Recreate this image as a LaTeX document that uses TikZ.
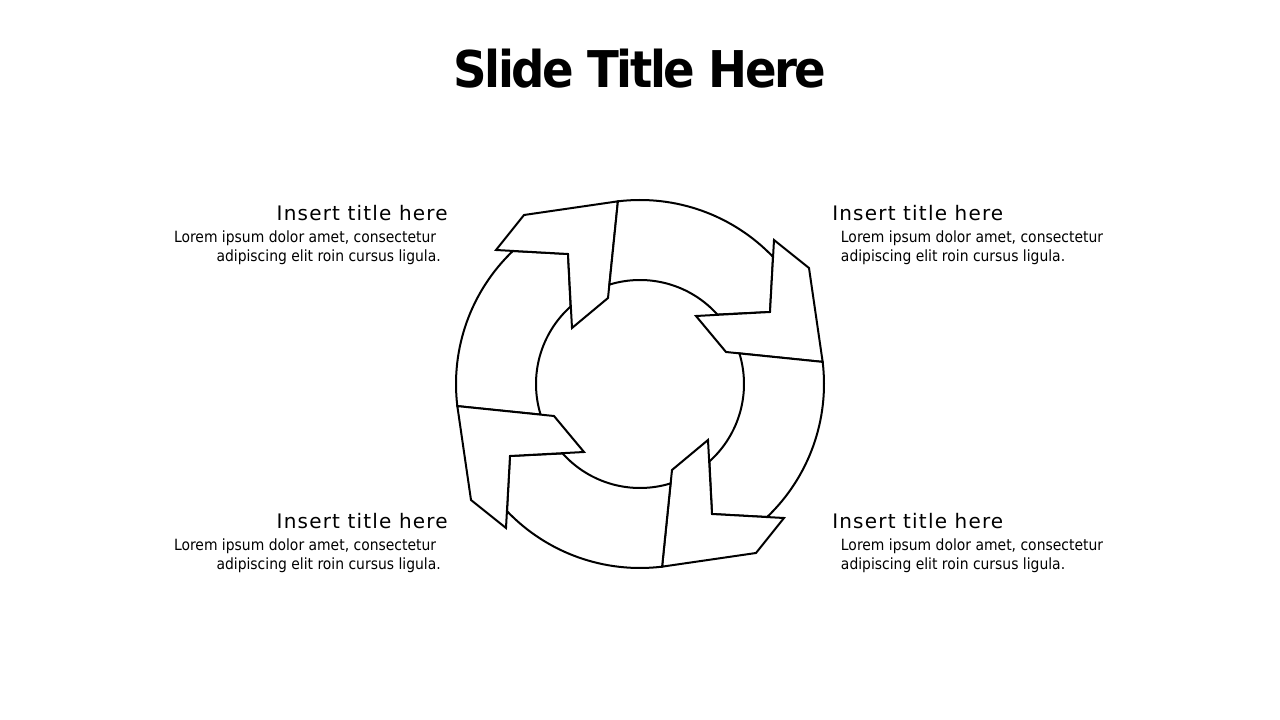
\documentclass[tikz,border=0pt]{standalone}
\usepackage{fontspec}
\setmainfont{DejaVu Sans}
\newfontfamily\slidefont{DejaVu Sans}[FakeStretch=0.92,LetterSpace=-5]
\newfontfamily\headfont{DejaVu Sans}[LetterSpace=6]
\newfontfamily\bodyfont{DejaVu Sans}[FakeStretch=0.9]

\begin{document}
\begin{tikzpicture}[x=0.75pt,y=0.75pt,
  piece/.style={draw=black,fill=white,line width=1.5pt},
  slidetitle/.style={font=\slidefont\bfseries\fontsize{38pt}{44pt}\selectfont,inner sep=0pt,anchor=base},
  head/.style={font=\headfont\fontsize{15pt}{18pt}\selectfont,inner sep=0pt},
  body/.style={font=\bodyfont\fontsize{11.6pt}{14.25pt}\selectfont,inner sep=0pt}]
\useasboundingbox (-640,-336) rectangle (640,384);
\coordinate (0) at (0,0);
% four bent arrows round the ring
\foreach \a in {0,90,180,270}{
\begin{scope}[rotate=-\a]
\draw[piece] (186.9:184) arc[start angle=186.9,end angle=133.7,radius=184]
  -- (-72,130) -- (131.9:104) arc[start angle=131.9,end angle=197.1,radius=104] -- cycle;
\draw[piece] (-144,134) -- (-116,169) -- (96.9:184) -- (-32,86) -- (-68,56) -- (-72,130) -- cycle;
\end{scope}
}
\node[slidetitle] (title) at (0,296) {Slide Title Here};
\node[head,anchor=base east] (tl) at (-192,163) {Insert title here};
\node[head,anchor=base west] (tr) at (192,163) {Insert title here};
\node[head,anchor=base east] (bl) at (-192,-145) {Insert title here};
\node[head,anchor=base west] (br) at (192,-145) {Insert title here};
% base of a two-line node sits on its last line
\node[body,align=right,anchor=base east] (tltext) at (-199,122.3)
  {Lorem ipsum dolor amet, consectetur\hspace*{0.3em}\\adipiscing elit roin cursus ligula.};
\node[body,align=left,anchor=base west] (trtext) at (200.7,122.3)
  {Lorem ipsum dolor amet, consectetur\\adipiscing elit roin cursus ligula.};
\node[body,align=right,anchor=base east] (bltext) at (-199,-185.3)
  {Lorem ipsum dolor amet, consectetur\hspace*{0.3em}\\adipiscing elit roin cursus ligula.};
\node[body,align=left,anchor=base west] (brtext) at (200.7,-185.3)
  {Lorem ipsum dolor amet, consectetur\\adipiscing elit roin cursus ligula.};
\end{tikzpicture}
\end{document}
